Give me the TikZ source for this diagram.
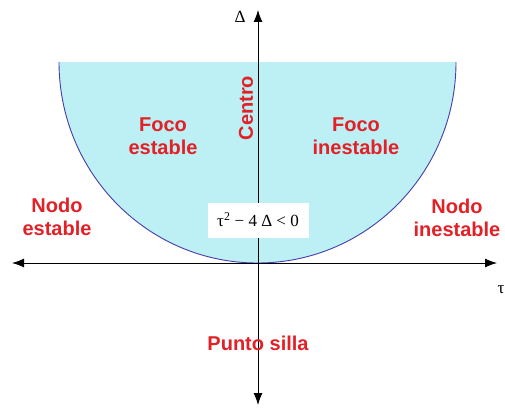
\documentclass[tikz,border=0pt]{standalone}
\usepackage{fontspec}
\setmainfont{Liberation Sans}
\newfontfamily\condfont{Liberation Serif}
\usepackage{tikz}
\usetikzlibrary{arrows.meta}
\definecolor{labelred}{RGB}{226,32,38}
\definecolor{regionfill}{RGB}{188,240,244}
\definecolor{curveblue}{RGB}{70,60,170}
\tikzset{
  regionlabel/.style={text=labelred, font=\fontsize{20}{23}\selectfont\bfseries,
                      align=center, inner sep=1pt},
  condbox/.style={fill=white, font=\condfont\fontsize{17}{20}\selectfont,
                  minimum width=101pt, minimum height=35pt, inner sep=2pt},
  axislabel/.style={font=\condfont\fontsize{17}{18}\selectfont, inner sep=0pt},
  axisline/.style={{Latex[length=12pt,width=9pt]}-{Latex[length=12pt,width=9pt]},
                   line width=0.9pt, black},
  boundary/.style={draw=curveblue, line width=0.9pt}
}

\begin{document}
\begin{tikzpicture}[x=1pt,y=1pt]
  \useasboundingbox (0,0) rectangle (505,408);

  % Region under the curve
  \fill[regionfill] (59,346) arc[start angle=180, end angle=360,
        x radius=198.5, y radius=201] -- cycle;
  \draw[boundary] (59,346) arc[start angle=180, end angle=360,
        x radius=198.5, y radius=201];

  % Axes
  \coordinate (west)  at (12,145);
  \coordinate (east)  at (497,145);
  \coordinate (south) at (258,3);
  \coordinate (north) at (258,398);
  \draw[axisline] (west) -- (east);
  \draw[axisline] (south) -- (north);
  \node[axislabel] (delta) at (240,391) {Δ};
  \node[axislabel] (tau) at (501,118) {τ};

  % Regions
  \node[regionlabel] (focoest) at (163,272) {Foco\\estable};
  \node[regionlabel] (focoinest) at (356,272) {Foco\\inestable};
  \node[regionlabel, rotate=90] (centro) at (246,300) {Centro};
  \node[regionlabel] (nodoest) at (57,191) {Nodo\\estable};
  \node[regionlabel] (nodoinest) at (457,190) {Nodo\\inestable};
  \node[regionlabel] (silla) at (258,65) {Punto silla};

  % Condition
  \node[condbox] (cond) at (258,188) {τ\textsuperscript{2} − 4 Δ < 0};
\end{tikzpicture}
\end{document}
